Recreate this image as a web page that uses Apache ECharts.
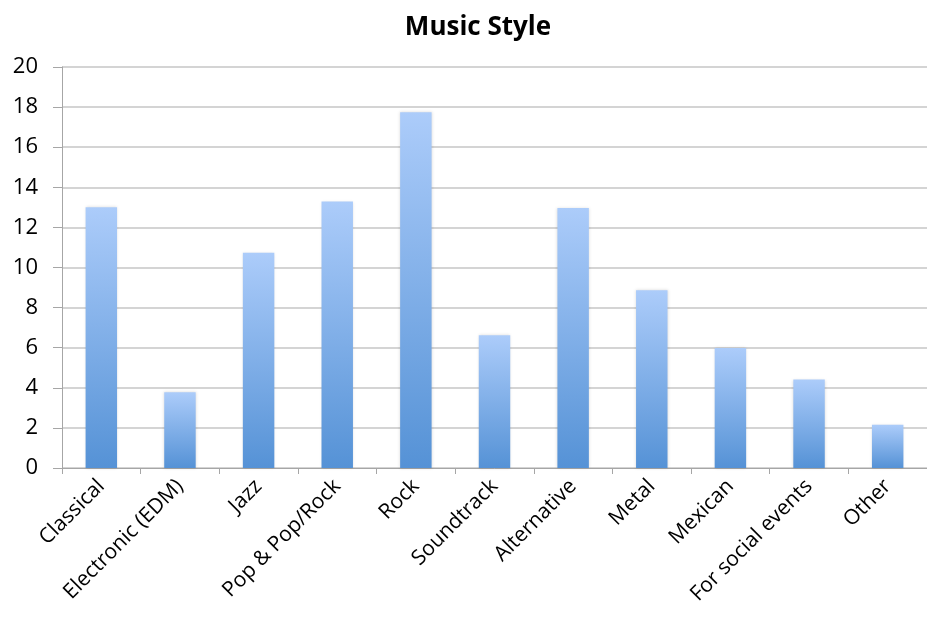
<!DOCTYPE html>
<html><head><meta charset="utf-8">
<script src="https://cdn.jsdelivr.net/npm/echarts@6/dist/echarts.min.js"></script>
<style>html,body{margin:0;padding:0;background:#fff}#c{width:927px;height:630px}</style>
</head><body><div id="c"></div>
<script>
const categories = ["Classical","Electronic (EDM)","Jazz","Pop & Pop/Rock","Rock","Soundtrack","Alternative","Metal","Mexican","For social events","Other"];
const values = [13.0, 3.78, 10.74, 13.29, 17.74, 6.62, 12.97, 8.86, 5.98, 4.41, 2.16];
const yTicks = [0, 2, 4, 6, 8, 10, 12, 14, 16, 18, 20];
const title = "Music Style";

const chart = echarts.init(document.getElementById('c'));
chart.setOption({
  animation: false,
  title: { text: title, left: 473, top: 10, textAlign: 'center',
    textStyle: { fontFamily: 'Open Sans', fontWeight: 'bold', fontSize: 26, color: '#000' } },
  grid: { left: 62, top: 67, width: 871, height: 401 },
  xAxis: {
    type: 'category', data: categories,
    axisLine: { lineStyle: { color: '#a6a6a6', width: 1 } },
    axisTick: { show: true, alignWithLabel: false, length: 6, lineStyle: { color: '#a6a6a6' } },
    axisLabel: { rotate: 45, interval: 0, margin: 15, fontFamily: 'Open Sans', fontSize: 21, color: '#000' }
  },
  yAxis: {
    type: 'value', min: yTicks[0], max: yTicks[yTicks.length - 1], interval: 2,
    axisLine: { show: true, lineStyle: { color: '#a6a6a6' } },
    axisTick: { show: true, length: 9, inside: false, lineStyle: { color: '#a6a6a6' } },
    axisLabel: { margin: 24, fontFamily: 'Open Sans', fontSize: 22, color: '#000' },
    splitLine: { lineStyle: { color: '#c6c6c6', width: 1.5 } }
  },
  series: [{
    type: 'bar', data: values, barWidth: '40%',
    itemStyle: {
      color: new echarts.graphic.LinearGradient(0, 0, 0, 1, [
        { offset: 0, color: '#acccfa' },
        { offset: 1, color: '#5592d6' }
      ]),
      shadowColor: 'rgba(0,0,0,0.15)', shadowBlur: 3
    }
  }]
});
</script></body></html>
